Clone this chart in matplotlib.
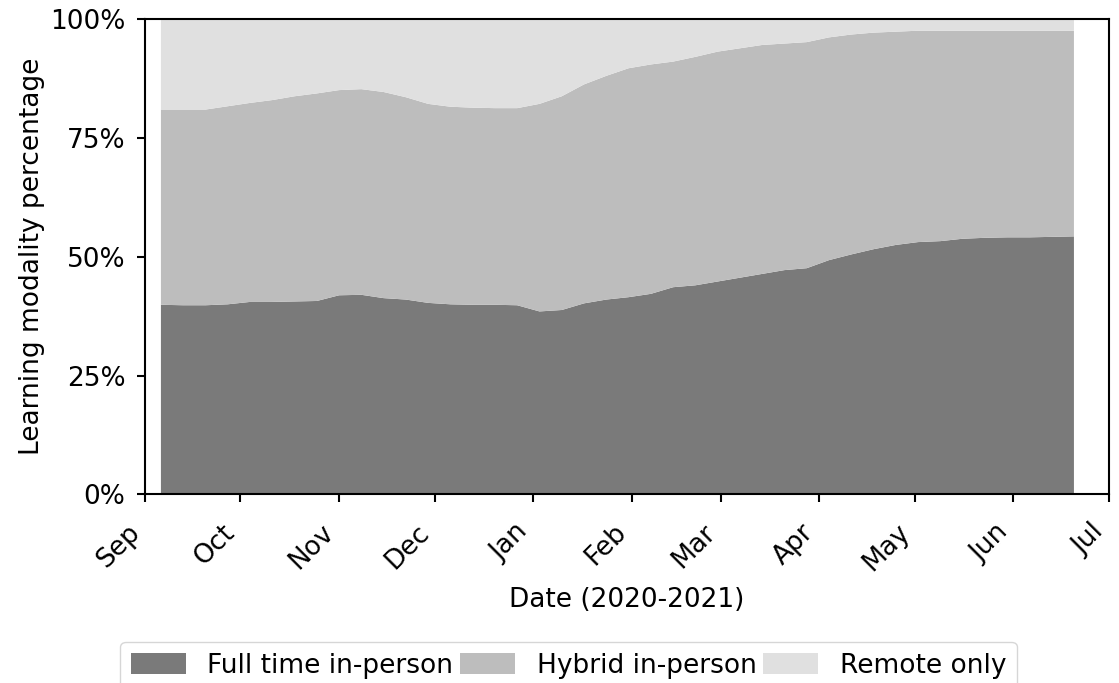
import matplotlib

matplotlib.use("Agg")
import matplotlib.dates as mdates
import matplotlib.pyplot as plt
import matplotlib.ticker as mticker
import numpy as np
import pandas as pd

# weekly snapshots, Sundays Sep 6 2020 .. Jun 20 2021
weeks = pd.date_range("2020-09-06", "2021-06-20", freq="7D")

full_time = [39.9, 39.8, 39.8, 40.0, 40.5, 40.5, 40.6, 40.7, 41.9, 42.0,
             41.3, 41.0, 40.3, 40.0, 39.9, 39.9, 39.8, 38.5, 38.8, 40.2,
             41.0, 41.5, 42.2, 43.6, 44.0, 44.8, 45.6, 46.4, 47.2, 47.6,
             49.3, 50.5, 51.6, 52.5, 53.1, 53.3, 53.8, 54.0, 54.1, 54.1,
             54.2, 54.3]
# top of the hybrid band (full time + hybrid)
in_person_total = [81.0, 81.0, 81.0, 81.7, 82.4, 83.0, 83.8, 84.4, 85.1, 85.3,
                   84.7, 83.6, 82.2, 81.6, 81.4, 81.3, 81.3, 82.2, 83.8, 86.3,
                   88.1, 89.7, 90.5, 91.1, 92.1, 93.2, 93.9, 94.6, 94.9, 95.2,
                   96.2, 96.8, 97.2, 97.4, 97.6, 97.6, 97.6, 97.6, 97.6, 97.6,
                   97.6, 97.6]

full_time = np.array(full_time)
hybrid = np.array(in_person_total) - full_time
remote = 100 - np.array(in_person_total)

labels = ["Full time in-person", "Hybrid in-person", "Remote only"]
colors = ["#7a7a7a", "#bdbdbd", "#e0e0e0"]

plt.rcParams["font.size"] = 19

fig = plt.figure(figsize=(11.19, 6.83), dpi=100)
ax = fig.add_axes([0.1296, 0.2763, 0.8614, 0.6954])
ax.stackplot(weeks, full_time, hybrid, remote, colors=colors, labels=labels)

ax.set_xlim(pd.Timestamp("2020-09-01"), pd.Timestamp("2021-07-01"))
ax.set_ylim(0, 100)
ax.xaxis.set_major_locator(mdates.MonthLocator())
ax.xaxis.set_major_formatter(mdates.DateFormatter("%b"))
ax.yaxis.set_major_locator(mticker.MultipleLocator(25))
ax.yaxis.set_major_formatter(mticker.PercentFormatter(decimals=0))
for lab in ax.get_xticklabels():
    lab.set_rotation(45)
    lab.set_ha("right")
for s in ax.spines.values():
    s.set_linewidth(1.5)
ax.tick_params(width=1.5, length=6)
ax.tick_params(axis="x", pad=12)
ax.tick_params(axis="y", pad=8)

ax.set_xlabel("Date (2020-2021)", labelpad=8)
ax.set_ylabel("Learning modality percentage")

fig.legend(loc="upper center", bbox_to_anchor=(0.508, 0.060), ncol=3,
           columnspacing=0.25, handlelength=2.1, handleheight=0.85,
           borderaxespad=0, fancybox=True)

fig.savefig("out.png", dpi=100)
